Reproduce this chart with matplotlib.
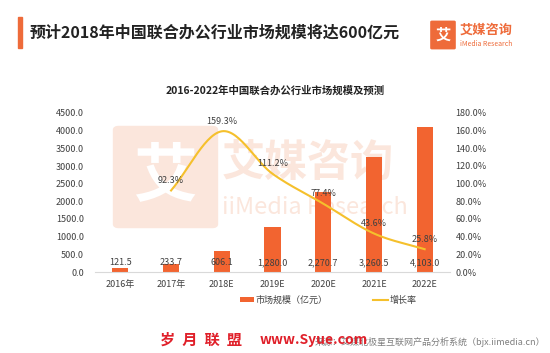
import matplotlib
matplotlib.use('Agg')
import matplotlib.pyplot as plt
from matplotlib.patches import Rectangle, FancyBboxPatch
import numpy as np

plt.rcParams['font.family'] = ['Noto Sans CJK SC', 'DejaVu Sans']

# Data
years = ['2016年', '2017年', '2018E', '2019E', '2020E', '2021E', '2022E']
market = [121.5, 233.7, 606.1, 1280.0, 2270.7, 3260.5, 4103.0]
growth_years = ['2017年', '2018E', '2019E', '2020E', '2021E', '2022E']
growth = [92.3, 159.3, 111.2, 77.4, 43.6, 25.8]

BAR = '#F26430'
LINE = '#F5C02C'
TXT = '#404040'


def smooth(xs, ys, n=30):
    # Catmull-Rom spline, like Excel's smoothed line
    xs = np.asarray(xs, float)
    ys = np.asarray(ys, float)
    px = np.concatenate([[2 * xs[0] - xs[1]], xs, [2 * xs[-1] - xs[-2]]])
    py = np.concatenate([[2 * ys[0] - ys[1]], ys, [2 * ys[-1] - ys[-2]]])
    ox, oy = [], []
    for i in range(1, len(px) - 2):
        t = np.linspace(0, 1, n)
        for p, o in ((px, ox), (py, oy)):
            p0, p1, p2, p3 = p[i - 1], p[i], p[i + 1], p[i + 2]
            o.extend(0.5 * (2 * p1 + (-p0 + p2) * t + (2 * p0 - 5 * p1 + 4 * p2 - p3) * t ** 2
                            + (-p0 + 3 * p1 - 3 * p2 + p3) * t ** 3))
    return np.array(ox), np.array(oy)


fig = plt.figure(figsize=(5.5, 3.53), dpi=100)
fig.patch.set_facecolor('white')

# Header
fig.patches.append(Rectangle((18 / 550, 1 - 48 / 353), 4 / 550, 31 / 353,
                             transform=fig.transFigure, color='#EE6B3A'))
fig.text(30 / 550, 1 - 33 / 353, '预计2018年中国联合办公行业市场规模将达600亿元',
         fontsize=11.5, color='#222222', va='center', ha='left', fontweight='bold')
fig.patches.append(FancyBboxPatch((432 / 550, 1 - 48 / 353), 22 / 550, 26 / 353,
                                  boxstyle='round,pad=0.002', transform=fig.transFigure,
                                  color='#EE6B3A'))
fig.text(443 / 550, 1 - 35 / 353, '艾', fontsize=11, color='white', ha='center',
         va='center', fontweight='bold')
fig.text(460 / 550, 1 - 30 / 353, '艾媒咨询', fontsize=9.5, color='#EE6B3A', ha='left',
         va='center', fontweight='bold')
fig.text(460 / 550, 1 - 44 / 353, 'iMedia Research', fontsize=5, color='#EE6B3A',
         ha='left', va='center')

# Chart title
fig.text(275 / 550, 1 - 91 / 353, '2016-2022年中国联合办公行业市场规模及预测',
         fontsize=7.5, color='#222222', ha='center', va='center', fontweight='bold')

# Background watermark (behind the axes)
fig.patches.append(FancyBboxPatch((119 / 550, 1 - 224 / 353), 93 / 550, 94 / 353,
                                  boxstyle='round,pad=0.01', transform=fig.transFigure,
                                  color='#FBE6DC', zorder=-2))
fig.text(165 / 550, 1 - 176 / 353, '艾', fontsize=46, color='white',
         ha='center', va='center', fontweight='bold', zorder=-1)
fig.text(222 / 550, 1 - 163 / 353, '艾媒咨询', fontsize=31, color='#FBE6DC',
         ha='left', va='center', fontweight='bold', zorder=-1)
fig.text(222 / 550, 1 - 207 / 353, 'iiMedia Research', fontsize=17, color='#FBE6DC',
         ha='left', va='center', zorder=-1)

ax = fig.add_axes([95 / 550, 1 - 272 / 353, 355 / 550, 159 / 353])
ax.patch.set_alpha(0)
x = np.arange(len(years))
ax.bar(x, market, width=0.32, color=BAR, zorder=2, label='市场规模（亿元）')
for xi, v in zip(x, market):
    ax.text(xi, 130, f'{v:,.1f}', ha='center', va='bottom', fontsize=6.5, color=TXT, zorder=4)
ax.set_ylim(0, 4500)
ax.set_yticks(np.arange(0, 4501, 500))
ax.set_yticklabels([f'{v:.1f}' for v in np.arange(0, 4501, 500)])
ax.set_xlim(-0.5, 6.5)
ax.set_xticks(x)
ax.set_xticklabels(years)
for s in ['top', 'left', 'right']:
    ax.spines[s].set_visible(False)
ax.spines['bottom'].set_color('#D9D9D9')
ax.tick_params(length=0, labelsize=6.5, colors=TXT, pad=6)
ax.tick_params(axis='y', pad=8)

ax2 = ax.twinx()
gx = np.array([years.index(g) for g in growth_years])
sx, sy = smooth(gx, growth)
ax2.plot(sx, sy, color=LINE, lw=1.5, zorder=3, label='增长率')
for xi, v in zip(gx, growth):
    ax2.text(xi, v + 6, f'{v:.1f}%', ha='center', va='bottom', fontsize=6.5, color=TXT)
ax2.set_ylim(0, 180)
ax2.set_yticks(np.arange(0, 181, 20))
ax2.set_yticklabels([f'{v:.1f}%' for v in np.arange(0, 181, 20)])
for s in ['top', 'left', 'right', 'bottom']:
    ax2.spines[s].set_visible(False)
ax2.tick_params(length=0, labelsize=6.5, colors=TXT, pad=4)

h1, l1 = ax.get_legend_handles_labels()
h2, l2 = ax2.get_legend_handles_labels()
fig.legend(h1 + h2, l1 + l2, loc='center', bbox_to_anchor=(328 / 550, 1 - 300 / 353),
           ncol=2, frameon=False, fontsize=6.5, labelcolor=TXT, columnspacing=5,
           handlelength=1.6, handleheight=0.5, handletextpad=0.2)

# Footer
fig.text(545 / 550, 1 - 342 / 353, '来源：艾媒北极星互联网产品分析系统（bjx.iimedia.cn）',
         fontsize=6.5, color='#7F7F7F', ha='right', va='center')
fig.text(160 / 550, 1 - 340 / 353, '岁  月  联  盟', fontsize=11, color='#E0202A',
         ha='left', va='center', fontweight='bold')
fig.text(260 / 550, 1 - 340 / 353, 'www.Syue.com', fontsize=10, color='#E0202A',
         ha='left', va='center', fontweight='bold')

fig.savefig('out.png', dpi=100, facecolor='white')
